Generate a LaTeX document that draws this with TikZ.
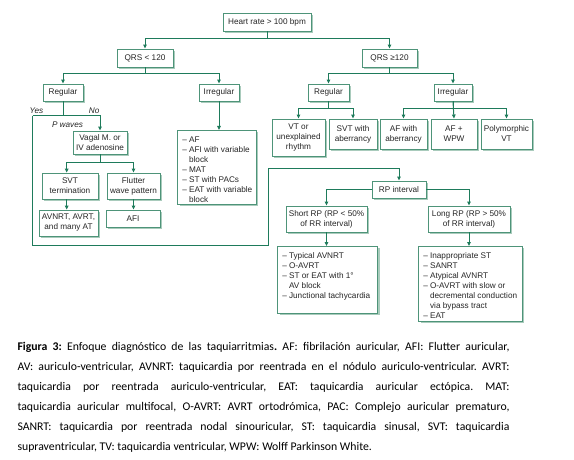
\documentclass[tikz,border=0pt]{standalone}
\usepackage{fontspec}
\setmainfont{Liberation Sans}
\newfontfamily\capfont{Carlito}
\usetikzlibrary{arrows.meta,shadows}
\definecolor{lnc}{HTML}{1E7B5B}
\definecolor{bdc}{HTML}{4E9479}
\definecolor{shc}{HTML}{A9CBBC}
\definecolor{txc}{HTML}{262626}
\newcommand\lbox[3]{\parbox[c][#2pt][t]{#1pt}{\raggedright\leftskip=4.5pt\vspace*{6pt}#3}}
\newcommand\ind{\phantom{–}\ }
\frenchspacing
\begin{document}
\begin{tikzpicture}[x=1pt,y=-1pt,
  every node/.style={font=\fontsize{8.2}{10}\selectfont, text=txc},
  box/.style={draw=bdc, line width=0.9pt, fill=white, inner sep=0pt, align=center,
    drop shadow={shadow xshift=2pt, shadow yshift=-2pt, fill=shc, opacity=1}},
  sz/.style 2 args={minimum width=#1pt, minimum height=#2pt},
  ln/.style={draw=lnc, line width=1pt},
  arr/.style={ln, -{Triangle[length=4pt,width=3.6pt]}},
  lbl/.style={font=\fontsize{8.2}{10}\selectfont\itshape, inner sep=0pt, anchor=base},
  capl/.style={anchor=base west, inner sep=0pt, text=black, font=\capfont\fontsize{11.75}{20}\selectfont\frenchspacing}]
\useasboundingbox (0,0) rectangle (574,460);

% boxes
\node[box, sz={88}{18}] (heart) at (267,22) {Heart rate > 100 bpm};
\node[box, sz={56}{18}] (qrs1) at (145,58) {QRS < 120};
\node[box, sz={55}{18}] (qrs2) at (389.5,58) {QRS ≥120};
\node[box, sz={40}{17}] (reg1) at (63,92.5) {Regular};
\node[box, sz={40}{17}] (irr1) at (219,92.5) {Irregular};
\node[box, sz={41}{17}] (reg2) at (328.5,92.5) {Regular};
\node[box, sz={38}{17}] (irr2) at (453,92.5) {Irregular};
\node[box, sz={53}{37}] (vt) at (298.5,137.5) {VT or\\unexplained\\rhythm};
\node[box, sz={48}{30}] (svtab) at (353,134) {SVT with\\aberrancy};
\node[box, sz={47}{30}] (afab) at (403.5,134) {AF with\\aberrancy};
\node[box, sz={46}{30}] (afwpw) at (454,134) {AF +\\WPW};
\node[box, sz={51}{30}] (poly) at (506.5,134) {Polymorphic\\VT};
\node[box, sz={54}{17}] (rp) at (399,189.5) {RP interval};
\node[box, sz={81}{26}] (shortrp) at (326.5,219) {Short RP (RP < 50\%\\of RR interval)};
\node[box, sz={82}{26}] (longrp) at (469,219) {Long RP (RP > 50\%\\of RR interval)};
\node[box, anchor=north west] (shortlist) at (277.3,246) {\lbox{100}{67}{– Typical AVNRT\\– O-AVRT\\– ST or EAT with 1°\\\ind AV block\\– Junctional tachycardia}};
\node[box, anchor=north west] (longlist) at (418.3,246) {\lbox{103.5}{75}{– Inappropriate ST\\– SANRT\\– Atypical AVNRT\\– O-AVRT with slow or\\\ind decremental conduction\\\ind via bypass tract\\– EAT}};
\node[box, sz={54}{23}] (vagal) at (100,142.5) {Vagal M. or\\IV adenosine};
\node[box, sz={56}{26}] (svtterm) at (70,186) {SVT\\termination};
\node[box, sz={53}{26}] (flutter) at (133.5,186) {Flutter\\wave pattern};
\node[box, sz={59}{26}] (avnrt) at (68.5,223) {AVNRT, AVRT,\\and many AT};
\node[box, sz={54}{17}] (afi) at (133,218.5) {AFI};
\node[box, anchor=north west] (irrlist) at (177.3,130) {\lbox{78.5}{74}{– AF\\– AFI with variable\\\ind block\\– MAT\\– ST with PACs\\– EAT with variable\\\ind block}};

% labels
\node[lbl] (yes) at (36.5,113.9) {Yes};
\node[lbl] (no) at (94.2,113.9) {No};
\node[lbl] (pw) at (67.5,127.2) {P waves};

% connectors
\draw[arr] (heart.south) -- ++(0,7.3) -| (qrs1.north);
\draw[arr] (heart.south) -- ++(0,7.3) -| (qrs2.north);
\draw[arr] (qrs1.south) -- ++(0,6.3) -| (reg1.north);
\draw[arr] (qrs1.south) -- ++(0,6.3) -| (irr1.north);
\draw[arr] (qrs2.south) -- ++(0,6.3) -| (reg2.north);
\draw[arr] (qrs2.south) -- ++(0,6.3) -| (irr2.north);
\draw[arr] (reg2.south) -- ++(0,7.3) -| (vt.north);
\draw[arr] (reg2.south) -- ++(0,7.3) -| (svtab.north);
\draw[arr] (irr2.south) -- ++(0,7.3) -| (afab.north);
\draw[arr] (irr2.south) -- (afwpw.north);
\draw[arr] (irr2.south) -- ++(0,7.3) -| (poly.north);
\draw[arr] (irr1.south) -- (irr1.south |- irrlist.north);

\coordinate (ya) at (32.7,116);
\coordinate (yb) at (32.7,245);
\coordinate (yc) at (268.3,245);
\coordinate (yd) at (268.3,169);
\draw[ln] (reg1.south) -- (reg1.south |- ya);
\draw[arr] (ya) -| (vagal.north);
\draw[arr] (ya) -- (yb) -- (yc) -- (yd) -| (rp.north);

\draw[arr] (vagal.south) -- ++(0,7.7) -| ([xshift=-3.3pt]svtterm.north);
\draw[arr] (vagal.south) -- ++(0,7.7) -| (flutter.north);
\draw[arr] ([xshift=-3.3pt]svtterm.south) -- ([xshift=-1.8pt]avnrt.north);
\draw[arr] (flutter.south) -- (flutter.south |- afi.north);

\draw[arr] (rp.west) -| (shortrp.north);
\draw[arr] (rp.east) -| (longrp.north);
\draw[arr] (shortrp.south) -- (shortrp.south |- shortlist.north);
\draw[arr] (longrp.south) -- (longrp.south |- longlist.north);

% caption
\node[capl] (c1) at (17.3,350.7) {\makebox[492pt][s]{\textbf{Figura 3:} Enfoque diagnóstico de las taquiarritmias\textbf{.} AF: fibrilación auricular, AFI: Flutter auricular,}};
\node[capl] (c2) at (17.3,370.7) {\makebox[492pt][s]{AV: auriculo-ventricular, AVNRT: taquicardia por reentrada en el nódulo auriculo-ventricular. AVRT:}};
\node[capl] (c3) at (17.3,390.7) {\makebox[492pt][s]{taquicardia por reentrada auriculo-ventricular, EAT: taquicardia auricular ectópica. MAT:}};
\node[capl] (c4) at (17.3,410.7) {\makebox[492pt][s]{taquicardia auricular multifocal, O-AVRT: AVRT ortodrómica, PAC: Complejo auricular prematuro,}};
\node[capl] (c5) at (17.3,430.7) {\makebox[492pt][s]{SANRT: taquicardia por reentrada nodal sinouricular, ST: taquicardia sinusal, SVT: taquicardia}};
\node[capl] (c6) at (17.3,450.7) {supraventricular, TV: taquicardia ventricular, WPW: Wolff Parkinson White.};
\end{tikzpicture}
\end{document}
